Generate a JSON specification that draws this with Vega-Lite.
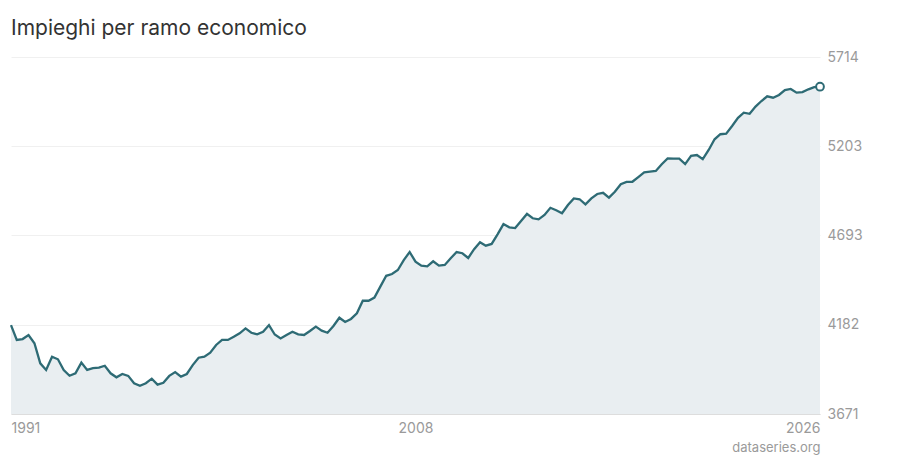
{
  "$schema": "https://vega.github.io/schema/vega-lite/v6.json",
  "width": 809,
  "height": 357,
  "autosize": {"type": "none"},
  "padding": {"left": 11, "top": 57, "right": 80, "bottom": 46},
  "background": "white",
  "title": {
    "text": "Impieghi per ramo economico",
    "anchor": "start",
    "frame": "group",
    "baseline": "alphabetic",
    "offset": -6,
    "fontSize": 21,
    "fontWeight": "normal",
    "color": "#333333",
    "font": "Inter"
  },
  "data": {
    "values": [
      {"date": "1991-01-01", "value": 4180}, {"date": "1991-04-01", "value": 4095}, {"date": "1991-07-01", "value": 4100}, {"date": "1991-10-01", "value": 4123},
      {"date": "1992-01-01", "value": 4076}, {"date": "1992-04-01", "value": 3961}, {"date": "1992-07-01", "value": 3923}, {"date": "1992-10-01", "value": 3999},
      {"date": "1993-01-01", "value": 3984}, {"date": "1993-04-01", "value": 3923}, {"date": "1993-07-01", "value": 3890}, {"date": "1993-10-01", "value": 3904},
      {"date": "1994-01-01", "value": 3965}, {"date": "1994-04-01", "value": 3923}, {"date": "1994-07-01", "value": 3933}, {"date": "1994-10-01", "value": 3936},
      {"date": "1995-01-01", "value": 3947}, {"date": "1995-04-01", "value": 3904}, {"date": "1995-07-01", "value": 3881}, {"date": "1995-10-01", "value": 3900},
      {"date": "1996-01-01", "value": 3889}, {"date": "1996-04-01", "value": 3847}, {"date": "1996-07-01", "value": 3833}, {"date": "1996-10-01", "value": 3847},
      {"date": "1997-01-01", "value": 3873}, {"date": "1997-04-01", "value": 3839}, {"date": "1997-07-01", "value": 3850}, {"date": "1997-10-01", "value": 3889},
      {"date": "1998-01-01", "value": 3911}, {"date": "1998-04-01", "value": 3885}, {"date": "1998-07-01", "value": 3900}, {"date": "1998-10-01", "value": 3951},
      {"date": "1999-01-01", "value": 3993}, {"date": "1999-04-01", "value": 3999}, {"date": "1999-07-01", "value": 4022}, {"date": "1999-10-01", "value": 4066},
      {"date": "2000-01-01", "value": 4095}, {"date": "2000-04-01", "value": 4095}, {"date": "2000-07-01", "value": 4113}, {"date": "2000-10-01", "value": 4133},
      {"date": "2001-01-01", "value": 4161}, {"date": "2001-04-01", "value": 4136}, {"date": "2001-07-01", "value": 4127}, {"date": "2001-10-01", "value": 4142},
      {"date": "2002-01-01", "value": 4180}, {"date": "2002-04-01", "value": 4126}, {"date": "2002-07-01", "value": 4103}, {"date": "2002-10-01", "value": 4123},
      {"date": "2003-01-01", "value": 4142}, {"date": "2003-04-01", "value": 4127}, {"date": "2003-07-01", "value": 4123}, {"date": "2003-10-01", "value": 4146},
      {"date": "2004-01-01", "value": 4171}, {"date": "2004-04-01", "value": 4148}, {"date": "2004-07-01", "value": 4136}, {"date": "2004-10-01", "value": 4175},
      {"date": "2005-01-01", "value": 4222}, {"date": "2005-04-01", "value": 4198}, {"date": "2005-07-01", "value": 4215}, {"date": "2005-10-01", "value": 4247},
      {"date": "2006-01-01", "value": 4319}, {"date": "2006-04-01", "value": 4319}, {"date": "2006-07-01", "value": 4337}, {"date": "2006-10-01", "value": 4400},
      {"date": "2007-01-01", "value": 4462}, {"date": "2007-04-01", "value": 4472}, {"date": "2007-07-01", "value": 4495}, {"date": "2007-10-01", "value": 4552},
      {"date": "2008-01-01", "value": 4598}, {"date": "2008-04-01", "value": 4543}, {"date": "2008-07-01", "value": 4520}, {"date": "2008-10-01", "value": 4516},
      {"date": "2009-01-01", "value": 4545}, {"date": "2009-04-01", "value": 4520}, {"date": "2009-07-01", "value": 4524}, {"date": "2009-10-01", "value": 4562},
      {"date": "2010-01-01", "value": 4598}, {"date": "2010-04-01", "value": 4591}, {"date": "2010-07-01", "value": 4564}, {"date": "2010-10-01", "value": 4614},
      {"date": "2011-01-01", "value": 4654}, {"date": "2011-04-01", "value": 4634}, {"date": "2011-07-01", "value": 4644}, {"date": "2011-10-01", "value": 4699},
      {"date": "2012-01-01", "value": 4758}, {"date": "2012-04-01", "value": 4739}, {"date": "2012-07-01", "value": 4735}, {"date": "2012-10-01", "value": 4776},
      {"date": "2013-01-01", "value": 4816}, {"date": "2013-04-01", "value": 4791}, {"date": "2013-07-01", "value": 4785}, {"date": "2013-10-01", "value": 4810},
      {"date": "2014-01-01", "value": 4851}, {"date": "2014-04-01", "value": 4837}, {"date": "2014-07-01", "value": 4820}, {"date": "2014-10-01", "value": 4867},
      {"date": "2015-01-01", "value": 4905}, {"date": "2015-04-01", "value": 4900}, {"date": "2015-07-01", "value": 4871}, {"date": "2015-10-01", "value": 4905},
      {"date": "2016-01-01", "value": 4930}, {"date": "2016-04-01", "value": 4937}, {"date": "2016-07-01", "value": 4909}, {"date": "2016-10-01", "value": 4943},
      {"date": "2017-01-01", "value": 4986}, {"date": "2017-04-01", "value": 4999}, {"date": "2017-07-01", "value": 5000}, {"date": "2017-10-01", "value": 5027},
      {"date": "2018-01-01", "value": 5054}, {"date": "2018-04-01", "value": 5058}, {"date": "2018-07-01", "value": 5062}, {"date": "2018-10-01", "value": 5100},
      {"date": "2019-01-01", "value": 5134}, {"date": "2019-04-01", "value": 5132}, {"date": "2019-07-01", "value": 5132}, {"date": "2019-10-01", "value": 5101},
      {"date": "2020-01-01", "value": 5148}, {"date": "2020-04-01", "value": 5153}, {"date": "2020-07-01", "value": 5129}, {"date": "2020-10-01", "value": 5182},
      {"date": "2021-01-01", "value": 5243}, {"date": "2021-04-01", "value": 5272}, {"date": "2021-07-01", "value": 5275}, {"date": "2021-10-01", "value": 5319},
      {"date": "2022-01-01", "value": 5366}, {"date": "2022-04-01", "value": 5395}, {"date": "2022-07-01", "value": 5389}, {"date": "2022-10-01", "value": 5430},
      {"date": "2023-01-01", "value": 5462}, {"date": "2023-04-01", "value": 5489}, {"date": "2023-07-01", "value": 5481}, {"date": "2023-10-01", "value": 5497},
      {"date": "2024-01-01", "value": 5525}, {"date": "2024-04-01", "value": 5531}, {"date": "2024-07-01", "value": 5510}, {"date": "2024-10-01", "value": 5513},
      {"date": "2025-01-01", "value": 5529}, {"date": "2025-04-01", "value": 5542}, {"date": "2025-07-01", "value": 5544}
    ]
  },
  "encoding": {
    "x": {
      "field": "date",
      "type": "temporal",
      "scale": {
        "type": "utc",
        "nice": false,
        "domain": [
          {"year": 1991, "month": 1, "date": 1, "utc": true},
          {"year": 2025, "month": 7, "date": 1, "utc": true}
        ]
      },
      "axis": {
        "values": [
          {"year": 1991, "month": 1, "date": 1, "utc": true},
          {"year": 2008, "month": 4, "date": 1, "utc": true},
          {"year": 2025, "month": 7, "date": 1, "utc": true}
        ],
        "labelExpr": "utcyear(datum.value) < 2000 ? '1991' : (utcyear(datum.value) < 2020 ? '2008' : '2026')",
        "labelFlush": true,
        "labelFontSize": 14,
        "labelColor": "#9a9a9a",
        "labelPadding": 7,
        "ticks": false,
        "grid": false,
        "domain": true,
        "domainColor": "#dddddd",
        "title": "dataseries.org",
        "titleAnchor": "end",
        "titleFontSize": 13,
        "titleFontWeight": "normal",
        "titleColor": "#9a9a9a",
        "titlePadding": 6
      }
    },
    "y": {
      "field": "value",
      "type": "quantitative",
      "scale": {"domain": [3671, 5714], "nice": false, "zero": false},
      "axis": {
        "orient": "right",
        "values": [3671, 4182, 4693, 5203, 5714],
        "format": "d",
        "labelFontSize": 14,
        "labelColor": "#9a9a9a",
        "labelPadding": 7,
        "ticks": false,
        "domain": false,
        "gridColor": "#f0f0f0",
        "title": null
      }
    }
  },
  "layer": [
    {"mark": {"type": "area", "color": "#e9eef1", "clip": true}},
    {"mark": {"type": "line", "color": "#2e6b75", "strokeWidth": 2.3}},
    {
      "transform": [{"filter": "time(datum.date) === utc(2025, 6, 1)"}],
      "mark": {"type": "point", "filled": true, "fill": "white", "stroke": "#2e6b75", "strokeWidth": 2, "size": 60, "opacity": 1}
    }
  ],
  "config": {
    "font": "Inter",
    "view": {"stroke": null}
  }
}
